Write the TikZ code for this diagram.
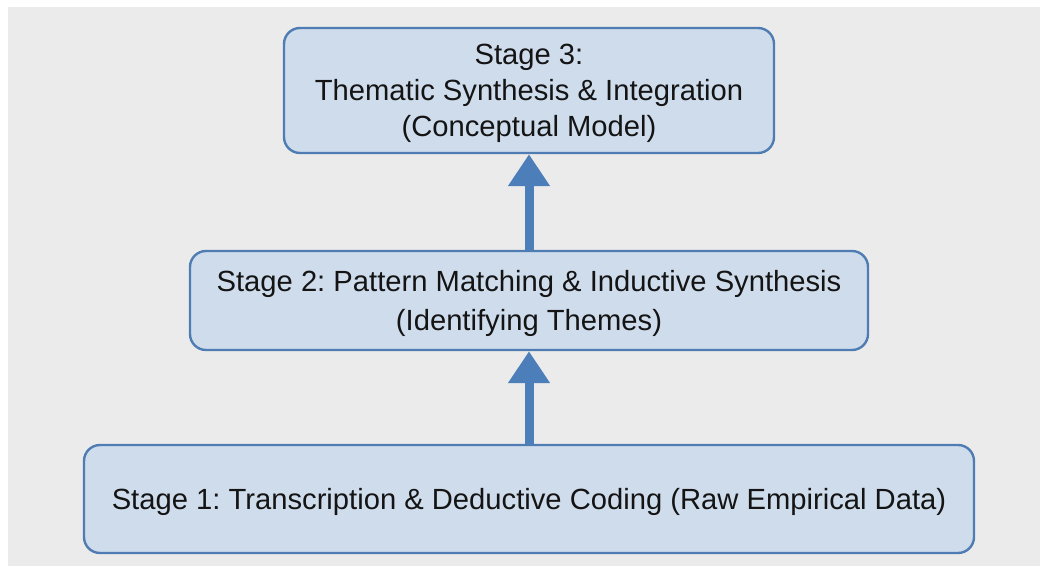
\documentclass[tikz,border=0pt]{standalone}
\usepackage{fontspec}
\setmainfont{Liberation Sans}
\usetikzlibrary{arrows.meta}
\frenchspacing
\definecolor{pagegray}{HTML}{EBEBEB}
\definecolor{boxfill}{HTML}{CFDCEC}
\definecolor{boxline}{HTML}{4F7DB3}
\definecolor{arrowblue}{HTML}{4C7EBA}
\tikzset{
  stagebox/.style={draw=boxline, fill=boxfill, line width=2.4bp,
    rounded corners=16bp, align=center, inner sep=0pt, text=black!92},
  uparrow/.style={draw=arrowblue, line width=9bp,
    -{Triangle[width=40bp,length=32bp]}}
}
\begin{document}
\begin{tikzpicture}[x=1bp,y=-1bp]
  \useasboundingbox (0,0) rectangle (1040,572);
  \fill[white] (0,0) rectangle (1040,572);
  \fill[pagegray] (8,7) rectangle (1040,566);

  % the three stages, bottom to top
  \node[stagebox, minimum width=490bp, minimum height=125bp] (s3) at (529,90.5) {};
  \node[font=\fontsize{29.3}{36}\selectfont, align=center, text=black!92]
    (t3) at (529,93) {Stage 3:\\Thematic Synthesis \& Integration\\(Conceptual Model)};
  \node[stagebox, minimum width=678bp, minimum height=99bp] (s2) at (529,300.5) {};
  \node[font=\fontsize{29.3}{39}\selectfont, align=center, text=black!92]
    (t2) at (529,303.5) {Stage 2: Pattern Matching \& Inductive Synthesis\\(Identifying Themes)};
  \node[stagebox, minimum width=890bp, minimum height=108bp] (s1) at (529,499) {};
  \node[font=\fontsize{29.3}{36}\selectfont, text=black!92]
    (t1) at (529,502) {Stage 1: Transcription \& Deductive Coding (Raw Empirical Data)};

  \draw[uparrow] (s1.north) -- (s2.south);
  \draw[uparrow] (s2.north) -- (s3.south);
\end{tikzpicture}
\end{document}
